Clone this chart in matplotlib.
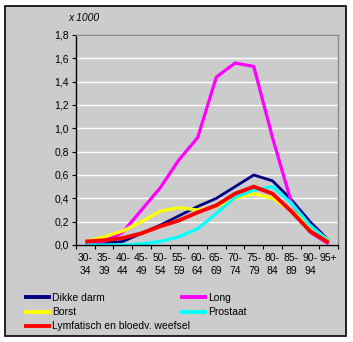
import matplotlib
matplotlib.use("Agg")
import matplotlib.pyplot as plt
from matplotlib.patches import Rectangle
from matplotlib.ticker import FuncFormatter

# leeftijdsklassen en aantallen (x 1000)
age_groups = ["30-\n34", "35-\n39", "40-\n44", "45-\n49", "50-\n54", "55-\n59", "60-\n64",
              "65-\n69", "70-\n74", "75-\n79", "80-\n84", "85-\n89", "90-\n94", "95+"]
dikke_darm = [0.02, 0.02, 0.03, 0.10, 0.17, 0.25, 0.33, 0.40, 0.50, 0.60, 0.55, 0.39, 0.20, 0.04]
long_ = [0.02, 0.03, 0.11, 0.30, 0.49, 0.73, 0.92, 1.44, 1.56, 1.53, 0.92, 0.37, 0.11, 0.01]
borst = [0.03, 0.07, 0.12, 0.20, 0.29, 0.32, 0.30, 0.33, 0.40, 0.44, 0.40, 0.30, 0.16, 0.04]
prostaat = [0.0, 0.0, 0.0, 0.01, 0.03, 0.07, 0.14, 0.27, 0.41, 0.47, 0.50, 0.36, 0.17, 0.03]
lymf = [0.03, 0.04, 0.06, 0.10, 0.16, 0.21, 0.28, 0.34, 0.44, 0.50, 0.44, 0.29, 0.12, 0.02]

series = [
    ("Dikke darm", dikke_darm, "#000080", 2.0),
    ("Long", long_, "#FF00FF", 2.3),
    ("Borst", borst, "#FFFF00", 2.3),
    ("Prostaat", prostaat, "#00FFFF", 2.3),
    ("Lymfatisch en bloedv. weefsel", lymf, "#FF0000", 2.8),
]

plt.rcParams["font.family"] = ["Liberation Sans", "DejaVu Sans"]
FS = 7.5
BG = "#CCCCCC"

W, H = 353, 342
fig = plt.figure(figsize=(W / 100, H / 100), dpi=100)
fig.patch.set_facecolor("white")
fig.add_artist(Rectangle((5 / W, 6 / H), 341 / W, 330 / H, transform=fig.transFigure,
                         facecolor=BG, edgecolor="black", linewidth=1.2, zorder=-10))

ax = fig.add_axes([76 / W, (H - 245) / H, 262 / W, 210 / H])
ax.set_facecolor(BG)

x = [i + 0.5 for i in range(len(age_groups))]
handles = {}
for name, vals, color, lw in series:
    (ln,) = ax.plot(x, vals, color=color, linewidth=lw, solid_joinstyle="miter",
                    solid_capstyle="butt", label=name)
    handles[name] = ln

ax.set_xlim(0, len(age_groups))
ax.set_ylim(0, 1.8)
ax.set_yticks([i * 0.2 for i in range(10)])
ax.yaxis.set_major_formatter(FuncFormatter(lambda v, p: f"{v:.1f}".replace(".", ",")))
ax.grid(axis="y", color="white", linewidth=1)
ax.set_axisbelow(True)

ax.set_xticks(range(len(age_groups) + 1))
ax.set_xticklabels([])
ax.set_xticks(x, minor=True)
ax.set_xticklabels(age_groups, minor=True, fontsize=FS, linespacing=1.3, va="top")
ax.tick_params(axis="x", which="major", length=3, width=0.8, direction="out")
ax.tick_params(axis="x", which="minor", length=0, pad=6)
ax.tick_params(axis="y", length=3, width=0.8, pad=2, labelsize=FS)

for s in ("left", "bottom"):
    ax.spines[s].set_color("black")
    ax.spines[s].set_linewidth(1)
for s in ("top", "right"):
    ax.spines[s].set_color("#8C8C8C")
    ax.spines[s].set_linewidth(1)

fig.text(84 / W, 1 - 18 / H, "x 1000", fontsize=FS, style="italic", ha="center", va="center")

order = ["Dikke darm", "Borst", "Lymfatisch en bloedv. weefsel", "Long", "Prostaat"]
leg = fig.legend([handles[n] for n in order], order, loc="upper left",
                 bbox_to_anchor=(24 / W, 1 - 293 / H), ncol=2, frameon=False,
                 fontsize=FS, handlelength=2.6, handletextpad=0.1, columnspacing=-1.0,
                 labelspacing=0.4, borderpad=0, borderaxespad=0)
for ln in leg.get_lines():
    ln.set_linewidth(2.8)

fig.savefig("out.png", dpi=100)
